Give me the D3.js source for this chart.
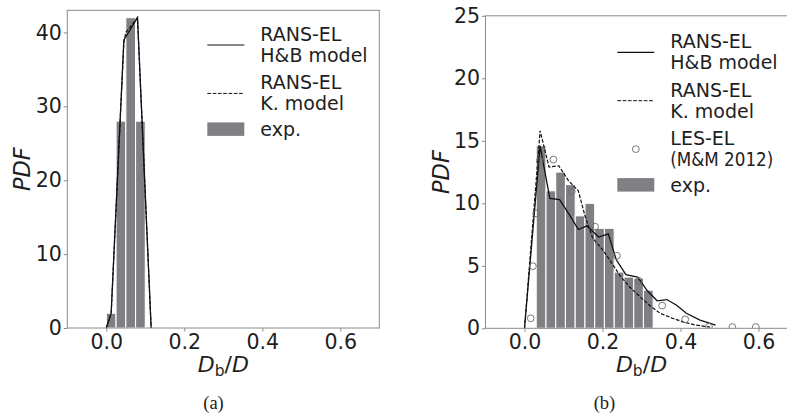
<!DOCTYPE html>
<html><head><meta charset="utf-8">
<script src="https://cdn.jsdelivr.net/npm/d3@7/dist/d3.min.js"></script>
<style>body{margin:0;background:#fff}svg{display:block}</style>
</head><body>
<svg id="c" width="787" height="414"></svg>
<script>
// ---------- DATA ----------
// panel (a)
const aBinCenters = [0.0125,0.0375,0.0625,0.0875,0.1125,0.1375,0.1625,0.1875,0.2125,0.2375];
const aExpPDF     = [2,28,42,28,0.12,0.12,0.12,0.12,0.12,0.12];
const aHBx = [0.0,0.0125,0.045,0.08,0.115];
const aHBy = [0,2,39,42,0];
const aKx  = [0.0,0.0125,0.045,0.05,0.08,0.115];
const aKy  = [0,2,38.6,40,42,0];
const aYTicks = [0,10,20,30,40];
// panel (b)
const bBinCenters = [0.0425,0.0675,0.0925,0.1175,0.1425,0.1675,0.1925,0.2175,0.2425,0.2675,0.2925,0.3175];
const bExpPDF     = [14.6,11.0,12.5,11.5,9.0,10.0,8.0,8.0,4.5,4.1,4.0,3.05];
const bHBx = [0.0,0.04,0.065,0.09,0.115,0.138,0.16,0.19,0.215,0.235,0.26,0.29,0.315,0.34,0.365,0.39,0.415,0.45,0.49];
const bHBy = [0,14.6,10.4,10.3,9.1,7.9,8.2,7.3,7.55,5.5,4.3,4.1,3.0,2.2,2.3,1.85,1.2,0.65,0.25];
const bKx  = [0.0,0.04,0.063,0.088,0.113,0.138,0.155,0.175,0.2,0.22,0.245,0.27,0.297,0.322,0.348,0.38,0.408,0.44,0.476];
const bKy  = [0,15.8,12.9,13.0,11.8,11.0,9.0,7.2,6.3,5.4,4.2,3.3,2.5,1.8,1.2,0.8,0.5,0.25,0.1];
const bLESx = [0.016,0.0215,0.03,0.039,0.074,0.121,0.181,0.237,0.293,0.353,0.412,0.473,0.533,0.593];
const bLESy = [0.8,4.97,9.2,13.4,13.5,10.95,8.13,5.8,3.8,1.82,0.72,0.12,0.1,0.1];
const bYTicks = [0,5,10,15,20,25];
const xTicks = [0.0,0.2,0.4,0.6];
const legA = [["RANS-EL","H&B model"],["RANS-EL","K. model"],["exp."]];
const legB = [["RANS-EL","H&B model"],["RANS-EL","K. model"],["LES-EL","(M&M 2012)"],["exp."]];

// ---------- DRAW ----------
const svg = d3.select("#c");
const FONT = "DejaVu Sans";
const TXT = "#1e1e1e", SPINE = "#8a8a8a", BAR = "#807f84";

function panel(o){
  const x = d3.scaleLinear().domain([-0.1,0.7]).range([o.l,o.r]);
  const y = d3.scaleLinear().domain([0,o.ymax]).range([o.b,o.t]);
  const g = svg.append("g");
  const cid = "clip"+o.id;
  g.append("clipPath").attr("id",cid).append("rect")
    .attr("x",o.l).attr("y",o.t).attr("width",o.r-o.l).attr("height",o.b-o.t);
  const dg = g.append("g").attr("clip-path",`url(#${cid})`);
  const bw = 0.025;
  dg.selectAll("rect.bar").data(o.bins).join("rect").attr("class","bar")
    .attr("x",d=>x(d[0]-bw/2)).attr("width",d=>x(d[0]+bw/2)-x(d[0]-bw/2))
    .attr("y",d=>y(d[1])).attr("height",d=>y(0)-y(d[1]))
    .attr("fill",BAR).attr("stroke","#fff").attr("stroke-width",1.1);
  const line = d3.line().x(d=>x(d[0])).y(d=>y(d[1]));
  dg.append("path").datum(o.k).attr("d",line).attr("fill","none")
    .attr("stroke","#111").attr("stroke-width",1.2).attr("stroke-dasharray","3.7,1.6");
  dg.append("path").datum(o.hb).attr("d",line).attr("fill","none")
    .attr("stroke","#111").attr("stroke-width",1.3);
  if(o.les){
    dg.selectAll("circle.les").data(o.les).join("circle").attr("class","les")
      .attr("cx",d=>x(d[0])).attr("cy",d=>y(d[1])).attr("r",3.4)
      .attr("fill","none").attr("stroke","#6a6a6a").attr("stroke-width",0.9);
  }
  // spines box
  g.append("rect").attr("x",o.l).attr("y",o.t).attr("width",o.r-o.l).attr("height",o.b-o.t)
    .attr("fill","none").attr("stroke",SPINE).attr("stroke-width",1);
  // axes
  const ax = g.append("g").attr("transform",`translate(0,${o.b})`)
    .call(d3.axisBottom(x).tickValues(xTicks).tickFormat(d3.format(".1f")).tickSize(3.5).tickPadding(3));
  const ay = g.append("g").attr("transform",`translate(${o.l},0)`)
    .call(d3.axisLeft(y).tickValues(o.yt).tickFormat(d3.format("d")).tickSize(3.5).tickPadding(2));
  [ax,ay].forEach(a=>{
    a.select(".domain").remove();
    a.selectAll(".tick line").attr("stroke",SPINE);
    a.selectAll(".tick text").attr("fill",TXT).attr("font-family",FONT).attr("font-size",20.5);
  });
  // y label
  g.append("text").attr("transform",`translate(${o.yl},${(o.t+o.b)/2}) rotate(-90)`)
    .attr("text-anchor","middle").attr("font-family",FONT).attr("font-size",22.5)
    .attr("font-style","italic").attr("fill",TXT).text("PDF");
  // x label
  const xl = g.append("text").attr("x",(o.l+o.r)/2+o.xlOff).attr("y",372)
    .attr("text-anchor","middle").attr("font-family",FONT).attr("font-size",22).attr("fill",TXT);
  xl.append("tspan").attr("font-style","italic").text("D");
  xl.append("tspan").attr("font-size",15.5).attr("dy",3.5).text("b");
  xl.append("tspan").attr("dy",-3.5).text("/");
  xl.append("tspan").attr("font-style","italic").text("D");
  // caption
  g.append("text").attr("x",o.cap).attr("y",409).attr("text-anchor","middle")
    .attr("font-family","Liberation Serif").attr("font-size",18.5).attr("fill",TXT).text(o.capText);
  // legend
  const lg = g.append("g");
  let yy = o.legTop;
  o.leg.forEach((lab,i)=>{
    const kind = o.kinds[i];
    const nLines = lab.length;
    const baseFirst = yy;
    lab.forEach((t,j)=>{
      const tx = lg.append("text").attr("x",o.lx+53).attr("y",baseFirst+j*21)
        .attr("font-family",FONT).attr("font-size",19).attr("fill",TXT).text(t);
      if(t.startsWith("(")) tx.attr("textLength",103).attr("lengthAdjust","spacingAndGlyphs");
    });
    const cy = baseFirst - 6.5 + (nLines-1)*21/2;
    if(kind==="solid"||kind==="dash"){
      lg.append("line").attr("x1",o.lx).attr("x2",o.lx+37).attr("y1",cy).attr("y2",cy)
        .attr("stroke","#111").attr("stroke-width",kind==="solid"?1.2:1)
        .attr("stroke-dasharray",kind==="dash"?"3.7,1.6":null);
    } else if(kind==="circ"){
      lg.append("circle").attr("cx",o.lx+18.5).attr("cy",cy).attr("r",3.4)
        .attr("fill","none").attr("stroke","#6a6a6a").attr("stroke-width",0.9);
    } else {
      lg.append("rect").attr("x",o.lx).attr("y",cy-7).attr("width",37).attr("height",13.5).attr("fill",BAR);
    }
    const next = o.leg[i+1];
    yy += (next && next.length===2) ? 48.4 : 46.5;
  });
}

panel({id:"a", l:67.3, r:379.3, t:10.3, b:328, ymax:43, yt:aYTicks,
  bins:aBinCenters.map((c,i)=>[c,aExpPDF[i]]),
  hb:aHBx.map((v,i)=>[v,aHBy[i]]), k:aKx.map((v,i)=>[v,aKy[i]]),
  yl:30, xlOff:0, cap:213.5, capText:"(a)",
  leg:legA, kinds:["solid","dash","patch"], lx:207.3, legTop:41});

panel({id:"b", l:485.5, r:797.5, t:15.8, b:328.3, ymax:25, yt:bYTicks,
  bins:bBinCenters.map((c,i)=>[c,bExpPDF[i]]),
  hb:bHBx.map((v,i)=>[v,bHBy[i]]), k:bKx.map((v,i)=>[v,bKy[i]]),
  les:bLESx.map((v,i)=>[v,bLESy[i]]),
  yl:449, xlOff:0, cap:604.5, capText:"(b)",
  leg:legB, kinds:["solid","dash","circ","patch"], lx:617.3, legTop:48.3});
</script>
</body></html>
